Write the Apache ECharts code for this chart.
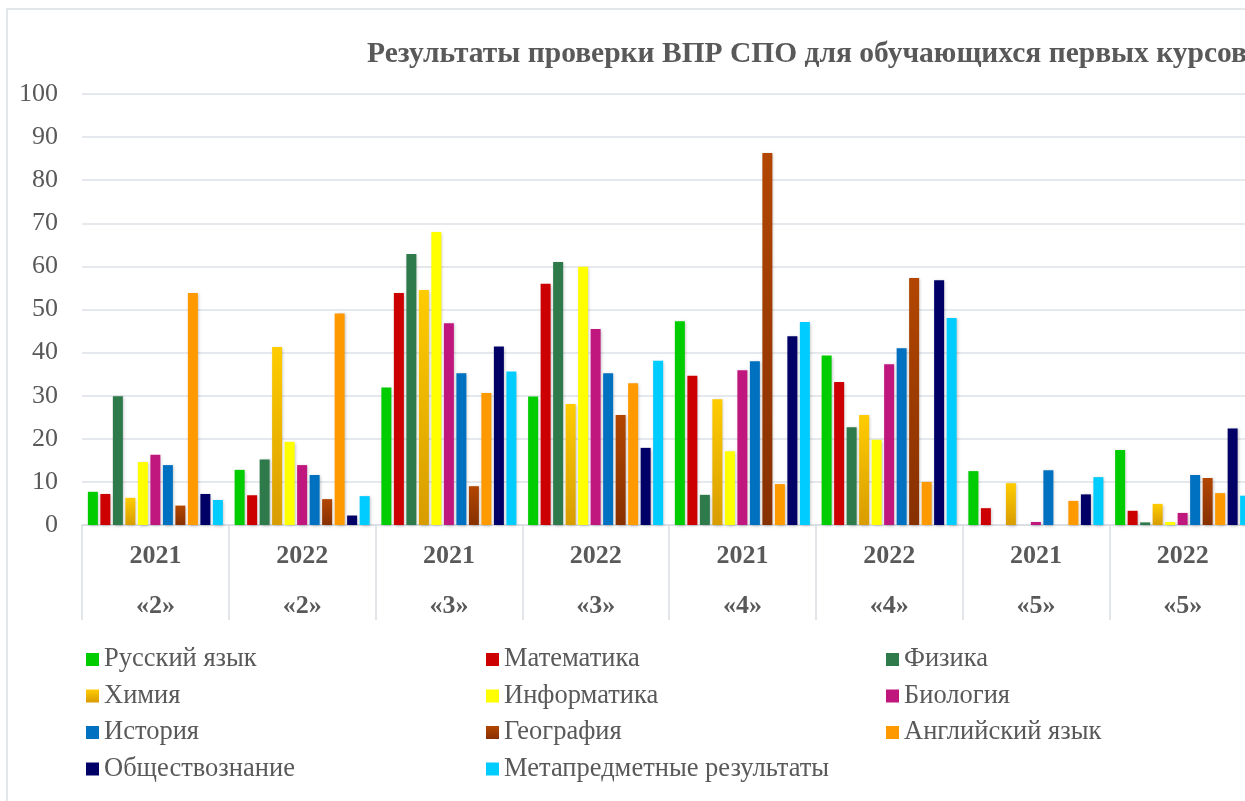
<!DOCTYPE html>
<html>
<head>
<meta charset="utf-8">
<script src="https://cdn.jsdelivr.net/npm/echarts@6/dist/echarts.min.js"></script>
<style>
  html, body { margin: 0; padding: 0; background: #fff; overflow: hidden; }
  #main { width: 1256px; height: 801px; }
</style>
</head>
<body>
<div id="main"></div>
<script>
// categories: year + grade
var years = ["2021", "2022", "2021", "2022", "2021", "2022", "2021", "2022"];
var grades = ["«2»", "«2»", "«3»", "«3»", "«4»", "«4»", "«5»", "«5»"];

// one array per subject, values per category
var russianVals   = [7.7, 12.8, 31.9, 29.8, 47.3, 39.3, 12.5, 17.4];
var mathsVals     = [7.2, 6.9, 53.8, 56.0, 34.6, 33.2, 3.9, 3.3];
var physicsVals   = [29.9, 15.2, 62.9, 61.0, 7.0, 22.7, 0, 0.6];
var chemistryVals = [6.3, 41.3, 54.5, 28.1, 29.2, 25.5, 9.7, 4.9];
var informatVals  = [14.6, 19.3, 68.0, 59.9, 17.1, 19.8, 0, 0.7];
var biologyVals   = [16.3, 13.9, 46.8, 45.5, 35.9, 37.3, 0.7, 2.8];
var historyVals   = [13.9, 11.6, 35.2, 35.2, 38.0, 41.0, 12.7, 11.6];
var geographyVals = [4.5, 6.0, 9.0, 25.5, 86.3, 57.3, 0, 10.9];
var englishVals   = [53.8, 49.1, 30.6, 32.9, 9.5, 10.0, 5.6, 7.4];
var socialVals    = [7.2, 2.2, 41.4, 17.9, 43.8, 56.8, 7.1, 22.4];
var metaVals      = [5.8, 6.7, 35.6, 38.1, 47.1, 48.0, 11.1, 6.8];

var names = ["Русский язык", "Математика", "Физика", "Химия", "Информатика", "Биология",
             "История", "География", "Английский язык", "Обществознание", "Метапредметные результаты"];
var values = [russianVals, mathsVals, physicsVals, chemistryVals, informatVals, biologyVals,
              historyVals, geographyVals, englishVals, socialVals, metaVals];

function grad(top, bottom) {
  return new echarts.graphic.LinearGradient(0, 0, 0, 1, [
    { offset: 0, color: top }, { offset: 1, color: bottom }
  ]);
}
var colors = ["#00cc00", "#cc0000", "#2e7a4b", grad("#ffcc00", "#d89c00"), "#ffff00", "#c0177f",
              "#0070c0", grad("#b24600", "#873000"), "#ff9900", "#000066", "#00ccff"];

var cats = years.map(function (y, i) { return y + "\n" + grades[i]; });
var serif = "'Liberation Serif', 'Times New Roman', serif";
var textGrey = "#595959";

var series = names.map(function (n, i) {
  return {
    name: n,
    type: "bar",
    data: values[i],
    barGap: "25%",
    barCategoryGap: "8%",
    itemStyle: {
      color: colors[i],
      shadowColor: "rgba(0,0,0,0.25)",
      shadowBlur: 3,
      shadowOffsetX: 1,
      shadowOffsetY: 1
    }
  };
});

function legendCol(left, items) {
  return {
    orient: "vertical",
    left: left,
    top: 641,
    itemGap: 9.5,
    itemWidth: 13,
    itemHeight: 13,
    icon: "rect",
    data: items.map(function (k) {
      return { name: names[k], itemStyle: { color: colors[k], shadowBlur: 0 } };
    }),
    textStyle: { fontFamily: serif, fontSize: 26.5, color: textGrey, padding: [0, 0, 0, 0] }
  };
}

var chart = echarts.init(document.getElementById("main"));
var option = {
  animation: false,
  backgroundColor: "#fff",
  graphic: [{
    type: "rect",
    shape: { x: 7, y: 9, width: 1400, height: 1000 },
    style: { fill: "none", stroke: "#dcdfe4", lineWidth: 1.5 },
    silent: true
  }],
  title: {
    text: "Результаты проверки ВПР СПО для обучающихся первых курсов",
    left: 362,
    top: 34,
    textStyle: { fontFamily: serif, fontSize: 29.5, fontWeight: "bold", color: textGrey }
  },
  legend: [
    legendCol(81, [0, 3, 6, 9]),
    legendCol(481, [1, 4, 7, 10]),
    legendCol(881, [2, 5, 8])
  ],
  grid: { left: 82, right: 0, top: 94, bottom: 276, containLabel: false },
  xAxis: {
    type: "category",
    data: cats,
    axisLine: { lineStyle: { color: "#d9dde3", width: 1.5 } },
    axisTick: { show: true, length: 95, lineStyle: { color: "#d9dde3", width: 1.5 } },
    axisLabel: {
      interval: 0,
      margin: 6,
      fontFamily: serif,
      fontSize: 26,
      fontWeight: "bold",
      color: textGrey,
      lineHeight: 50
    }
  },
  yAxis: {
    type: "value",
    min: 0,
    max: 100,
    interval: 10,
    axisLine: { show: false },
    axisTick: { show: false },
    splitLine: { lineStyle: { color: "#dde1e6", width: 1.5 } },
    axisLabel: { margin: 24, fontFamily: serif, fontSize: 26, color: textGrey }
  },
  series: series
};
chart.setOption(option);
</script>
</body>
</html>
